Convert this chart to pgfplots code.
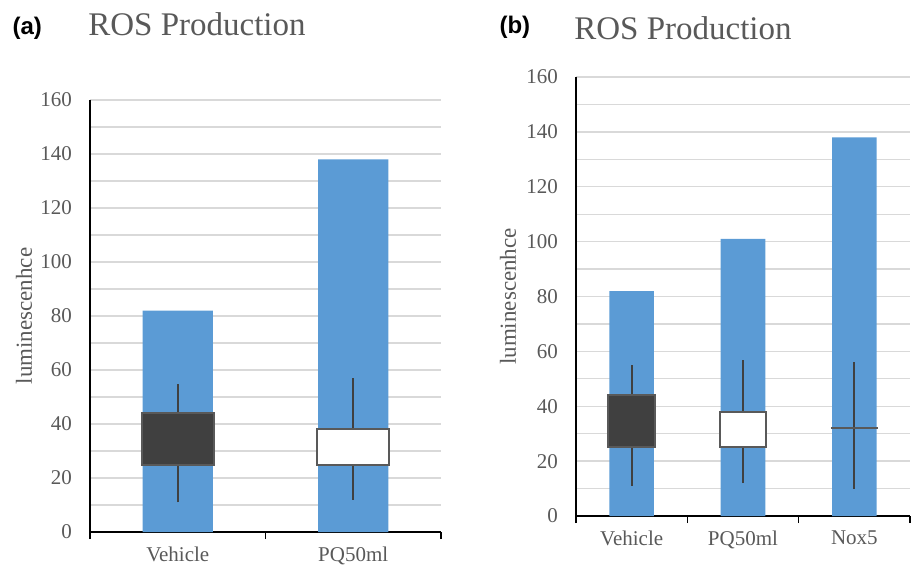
\documentclass[border=0pt]{standalone}
\usepackage{pgfplots}
\pgfplotsset{compat=1.18}
\usepackage{fontspec}
\setmainfont{Liberation Serif}
\newfontfamily\panelfont{Liberation Sans}

\definecolor{barblue}{HTML}{5B9BD5}
\definecolor{boxdark}{HTML}{404040}
\definecolor{boxedge}{HTML}{595959}
\definecolor{gridgray}{HTML}{D9D9D9}
\definecolor{textgray}{HTML}{595959}

\pgfplotsset{
  rosaxis/.style={
    scale only axis,
    anchor=south west,
    ymin=0, ymax=160,
    ytick={0,20,...,160},
    minor ytick={10,30,...,150},
    ymajorgrids, yminorgrids,
    major grid style={gridgray, line width=1.3pt},
    minor grid style={gridgray, line width=1.3pt},
    axis x line*=bottom, axis y line*=left,
    axis line style={black, line width=1.6pt},
    tick align=outside,
    major tick length=7pt, minor tick length=0pt,
    xtick={0.5,1.5,2.5,3.5},
    x tick label as interval,
    xtick style={black, line width=1.6pt},
    ytick style={draw=none},
    /pgf/number format/assume math mode=true,
    ticklabel style={text=textgray, font=\fontsize{21}{25}\selectfont},
    yticklabel style={inner sep=0pt, xshift=-11pt},
    xticklabel style={inner sep=0pt, yshift=-8pt},
    ylabel={luminescenhce},
    every axis y label/.style={at={(axis description cs:0,0.5)}, rotate=90, anchor=center,
      text=textgray, font=\fontsize{23}{27}\selectfont},
    clip=false,
  },
  rosbar/.style={ybar, bar width=0.4, fill=barblue, draw=none},
  whisk/.style={draw=boxdark, line width=2pt},
  boxframe/.style={draw=boxedge, line width=2pt},
}

\begin{document}
\begin{tikzpicture}[x=1pt, y=1pt]
\path[use as bounding box] (0,0) rectangle (911,566);

% panel (a)
\node[anchor=west, font=\panelfont\bfseries\fontsize{24}{28}\selectfont] at (9,538) {(a)};
\node[anchor=base, text=textgray, font=\fontsize{33}{37}\selectfont] at (197,530.5) {ROS Production};
\begin{axis}[rosaxis, at={(90pt,34pt)}, width=351pt, height=432pt,
    xmin=0.5, xmax=2.5, xticklabels={Vehicle,PQ50ml},
    every axis y label/.append style={yshift=66pt}]
  \addplot[rosbar] coordinates {(1,82) (2,138)};
  % whiskers
  \addplot[whisk] coordinates {(1,11) (1,55)};
  \addplot[whisk] coordinates {(2,12) (2,57)};
  % boxes
  \addplot[boxframe, fill=boxdark] coordinates {(0.795,25) (1.205,25) (1.205,44) (0.795,44)} -- cycle;
  \addplot[boxframe, fill=white] coordinates {(1.795,25) (2.205,25) (2.205,38) (1.795,38)} -- cycle;
\end{axis}

% panel (b)
\node[anchor=west, font=\panelfont\bfseries\fontsize{24}{28}\selectfont] at (496,539) {(b)};
\node[anchor=base, text=textgray, font=\fontsize{33}{37}\selectfont] at (683,526) {ROS Production};
\begin{axis}[rosaxis, at={(576pt,50pt)}, width=334pt, height=439pt,
    xmin=0.5, xmax=3.5, xticklabels={Vehicle,PQ50ml,Nox5},
    every axis y label/.append style={yshift=68pt}]
  \addplot[rosbar] coordinates {(1,82) (2,101) (3,138)};
  % whiskers
  \addplot[whisk] coordinates {(1,11) (1,55)};
  \addplot[whisk] coordinates {(2,12) (2,57)};
  \addplot[whisk] coordinates {(3,10) (3,56)};
  % boxes
  \addplot[boxframe, fill=boxdark] coordinates {(0.79,25) (1.21,25) (1.21,44) (0.79,44)} -- cycle;
  \addplot[boxframe, fill=white] coordinates {(1.79,25) (2.21,25) (2.21,38) (1.79,38)} -- cycle;
  \addplot[boxframe] coordinates {(2.79,32) (3.21,32)};
\end{axis}
\end{tikzpicture}
\end{document}
